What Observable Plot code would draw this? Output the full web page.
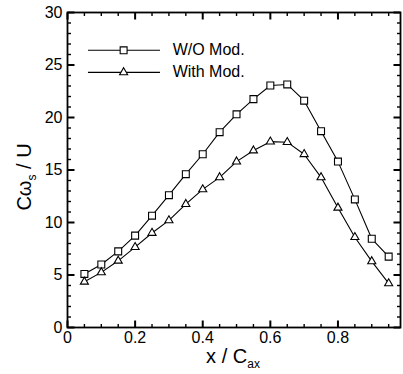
<!DOCTYPE html>
<html><head><meta charset="utf-8">
<script src="https://cdn.jsdelivr.net/npm/d3@7"></script>
<script src="https://cdn.jsdelivr.net/npm/@observablehq/plot@0.6"></script>
<style>body{margin:0;background:#fff} svg{display:block}</style>
</head><body><div id="chart"></div>
<script>
const xPos = [0.05,0.10,0.15,0.20,0.25,0.30,0.35,0.40,0.45,0.50,0.55,0.60,0.65,0.70,0.75,0.80,0.85,0.90,0.95];
const woMod = [5.1,6.0,7.25,8.75,10.65,12.6,14.6,16.5,18.6,20.3,21.75,23.05,23.15,21.6,18.7,15.8,12.2,8.45,6.75];
const withMod = [4.35,5.25,6.35,7.65,9.0,10.2,11.75,13.15,14.3,15.8,16.85,17.7,17.65,16.5,14.3,11.4,8.6,6.3,4.2];
const seriesNames = ["W/O Mod.", "With Mod."];
const xTicks = [0,0.2,0.4,0.6,0.8];
const xMinor = [0.05,0.1,0.15,0.25,0.3,0.35,0.45,0.5,0.55,0.65,0.7,0.75,0.85,0.9,0.95];
const yTicks = [0,5,10,15,20,25,30];
const yMinor = d3.range(0,31).filter(v => v % 5 !== 0);

const symbols = ["square","triangle"];
const radii = [3.9, 3.0];
const rows = [];
[woMod, withMod].forEach((vals, s) => vals.forEach((v, i) => rows.push({x: xPos[i], y: v, series: seriesNames[s]})));

const legend = seriesNames.map((name, i) => ({name, i, y: 26.4 - i * 2.1}));

const font = "Liberation Sans, Arial, Helvetica, sans-serif";
const W = 403, H = 374, mL = 67, mR = 3, mT = 12, mB = 47;
const xMax = 0.985, yMax = 30;
const pxPerX = (W - mL - mR) / xMax, pxPerY = (H - mT - mB) / yMax;
const MAJ = 7, MIN = 3.5;

// tick segments (inward, all four sides) as link data
const tickSegs = [];
[[xTicks, MAJ, "maj"], [xMinor, MIN, "min"]].forEach(([vals, len, k]) => vals.forEach(v => {
  tickSegs.push({x1: v, x2: v, y1: 0, y2: len / pxPerY, k});
  tickSegs.push({x1: v, x2: v, y1: yMax, y2: yMax - len / pxPerY, k});
}));
[[yTicks, MAJ, "maj"], [yMinor, MIN, "min"]].forEach(([vals, len, k]) => vals.forEach(v => {
  tickSegs.push({x1: 0, x2: len / pxPerX, y1: v, y2: v, k});
  tickSegs.push({x1: xMax, x2: xMax - len / pxPerX, y1: v, y2: v, k});
}));

const marks = [
  Plot.axisX(xTicks, {anchor: "bottom", tickSize: 0, tickPadding: 4, fontSize: 16, tickFormat: d => String(d), label: null}),
  Plot.axisY(yTicks, {anchor: "left", tickSize: 0, tickPadding: 5, fontSize: 16, tickFormat: d => String(d), label: null})
];
seriesNames.forEach((name, s) => {
  const d = rows.filter(r => r.series === name);
  marks.push(Plot.line(d, {x: "x", y: "y", stroke: "#000", strokeWidth: 1.1}));
  marks.push(Plot.dot(d, {x: "x", y: "y", symbol: symbols[s], r: radii[s], stroke: "#000", fill: "#fff", strokeWidth: 1.1}));
});
marks.push(Plot.ruleY(legend, {y: "y", x1: 0.062, x2: 0.275, stroke: "#000", strokeWidth: 1.1}));
legend.forEach(l => marks.push(Plot.dot([l], {x: () => 0.166, y: "y", symbol: symbols[l.i], r: radii[l.i], stroke: "#000", fill: "#fff", strokeWidth: 1.1})));
marks.push(Plot.text(legend, {x: () => 0.311, y: "y", text: "name", textAnchor: "start", fontSize: 16, fill: "#000"}));

marks.push(Plot.link(tickSegs.filter(t => t.k === "maj"), {x1: "x1", y1: "y1", x2: "x2", y2: "y2", stroke: "#000", strokeWidth: 2}));
marks.push(Plot.link(tickSegs.filter(t => t.k === "min"), {x1: "x1", y1: "y1", x2: "x2", y2: "y2", stroke: "#000", strokeWidth: 1.4}));
marks.push(Plot.frame({stroke: "#000", strokeWidth: 1.8}));

const plot = Plot.plot({
  width: W, height: H,
  marginLeft: mL, marginRight: mR, marginTop: mT, marginBottom: mB,
  style: {fontFamily: font, color: "#000", background: "#fff"},
  x: {domain: [0, xMax]},
  y: {domain: [0, yMax]},
  marks
});
document.getElementById("chart").append(plot);

const svg = d3.select(plot);
const xl = svg.append("text").attr("x", 233).attr("y", 363).attr("text-anchor", "middle")
  .attr("font-size", 20).attr("font-family", font).attr("fill", "#000");
xl.append("tspan").text("x / C");
xl.append("tspan").attr("font-size", 12).attr("dy", 5).text("ax");

const yl = svg.append("text").attr("transform", "translate(31,177) rotate(-90)").attr("text-anchor", "middle")
  .attr("font-size", 20).attr("font-family", font).attr("fill", "#000");
yl.append("tspan").text("Cω");
yl.append("tspan").attr("font-size", 12).attr("dy", 5).text("s");
yl.append("tspan").attr("dy", -5).text(" / U");
</script></body></html>
